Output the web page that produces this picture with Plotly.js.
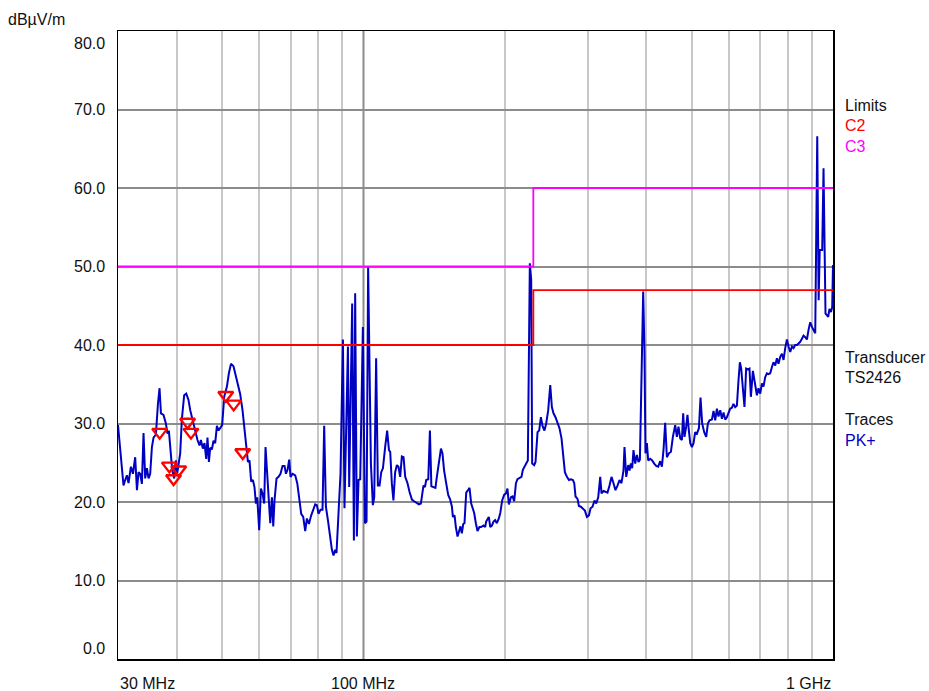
<!DOCTYPE html>
<html>
<head>
<meta charset="utf-8">
<script src="https://cdn.plot.ly/plotly-3.0.1.min.js"></script>
<style>html,body{margin:0;padding:0;background:#fff;}#chart{width:929px;height:691px;}</style>
</head>
<body>
<div id="chart"></div>
<script>
// Frequencies (MHz) of the PK+ trace
const freqMHz = [
30.0,30.82,31.08,31.34,31.59,31.96,32.28,32.64,32.92,33.18,
33.44,33.73,34.0,34.28,34.57,34.85,35.13,35.43,35.71,36.13,
36.49,36.78,37.03,37.5,37.94,38.24,38.5,38.75,39.13,39.52,
39.85,40.05,40.36,40.7,41.04,41.5,41.92,42.39,42.75,43.31,
43.8,44.3,44.74,45.05,45.49,45.85,46.24,46.53,46.86,47.15,
47.55,47.92,48.32,48.73,49.12,49.52,50.0,50.5,51.18,51.68,
52.2,52.86,53.57,54.18,54.6,55.25,55.79,56.26,56.73,57.17,
57.65,58.13,58.59,59.0,59.38,59.96,60.47,60.95,61.45,61.85,
62.37,62.77,63.3,63.82,64.24,64.64,65.28,65.92,66.57,67.23,
67.89,68.36,68.9,69.47,69.92,70.62,71.55,72.26,72.95,73.68,
74.41,75.14,75.76,76.51,77.38,78.15,78.91,79.56,80.21,80.98,
81.79,82.47,83.16,83.99,84.8,85.65,86.32,87.04,87.6,88.48,
89.34,90.4,91.1,92.65,93.22,94.6,95.4,96.0,96.8,97.6,
98.4,99.7,100.7,101.5,102.3,103.7,104.7,105.4,106.4,107.3,
108.2,109.1,110.0,111.2,112.3,113.3,114.0,114.9,115.8,116.8,
117.8,118.7,119.7,120.7,121.7,122.7,124.1,125.3,126.8,128.2,
129.9,131.2,132.5,133.4,134.2,135.2,136.0,137.4,138.5,139.5,
141.0,142.3,143.3,144.7,146.2,147.3,148.5,150.0,151.5,153.0,
154.3,155.0,156.3,157.3,158.6,159.7,160.9,162.0,163.1,164.1,
165.5,166.9,168.2,169.6,171.0,172.1,173.5,174.9,176.6,178.1,
180.1,181.6,182.5,183.7,184.9,186.2,187.7,189.2,190.7,192.3,
194.2,195.6,197.4,199.3,201.1,202.6,204.0,206.1,207.7,209.4,
211.2,212.8,214.9,217.0,218.5,220.2,222.1,223.9,225.0,226.1,
227.6,228.7,231.0,232.5,234.8,236.7,238.7,240.6,242.9,245.0,
247.4,249.9,251.9,253.9,256.4,258.9,261.5,264.1,265.9,268.5,
271.2,273.9,276.5,279.3,281.1,282.9,285.7,287.6,290.4,293.3,
296.2,299.1,302.1,304.5,307.5,310.5,313.1,316.2,319.3,321.3,
324.5,327.7,330.9,334.2,337.5,340.8,344.1,347.5,351.0,354.4,
357.9,359.7,362.7,366.3,368.7,371.1,373.5,375.9,379.1,382.2,
385.2,387.9,390.9,394.2,396.7,398.6,401.4,404.0,408.1,412.0,
416.1,420.2,424.3,428.5,432.1,435.5,439.1,442.8,447.2,451.6,
456.0,461.2,465.0,468.7,472.8,476.6,479.6,482.7,486.7,489.8,
493.2,496.6,500.6,504.6,508.7,513.0,518.1,522.2,526.5,531.7,
537.0,541.4,545.8,552.2,556.6,561.2,565.9,570.3,575.2,580.0,
584.6,589.5,594.3,599.0,604.1,609.1,613.9,619.0,624.2,629.1,
633.4,637.5,642.8,647.8,653.2,658.7,663.9,668.5,675.1,680.5,
688.5,693.9,699.8,705.6,711.2,717.1,723.1,728.8,735.0,741.2,
747.0,753.2,759.5,765.4,772.0,778.4,784.6,791.1,797.7,804.0,
810.8,817.6,824.0,830.9,837.8,844.4,851.5,858.6,865.4,872.6,
879.9,886.8,894.3,901.9,909.0,916.6,925.6,932.0,937.0,948.4,
954.6,959.2,963.9,970.5,976.8,982.9,989.7,996.1,1000
];
// Levels (dBµV/m) of the PK+ trace
const pkLevel = [
29.8,22.1,22.8,23.4,22.4,24.5,23.6,25.7,21.5,23.8,
23.6,22.3,28.8,23.0,24.3,23.0,23.6,27.0,28.2,28.6,
32.5,34.5,31.3,31.1,30.0,28.7,29.1,27.0,24.1,23.0,
25.3,23.4,24.9,26.2,30.6,33.6,33.8,33.0,31.7,30.2,
28.9,27.9,27.2,27.9,26.8,27.5,25.5,28.2,25.1,26.9,
26.7,27.8,27.5,29.7,29.1,29.4,29.8,33.4,34.7,36.4,
37.6,37.3,35.9,34.7,33.8,31.7,29.1,26.4,25.1,25.3,
22.6,22.8,21.9,19.8,20.6,16.4,21.7,21.1,19.8,27.0,
23.6,21.1,17.3,20.6,16.9,20.2,23.0,23.2,23.6,24.6,
24.6,23.6,24.1,25.4,23.2,23.6,23.4,22.4,20.6,18.5,
18.1,16.3,17.9,17.2,18.3,19.0,19.7,19.6,18.5,19.0,
19.0,29.7,19.4,17.7,16.0,13.9,13.2,13.9,13.5,18.5,
23.6,40.7,19.2,39.8,21.9,45.3,15.1,46.6,15.6,22.8,
22.9,42.3,17.3,17.5,49.9,24.9,19.6,20.6,38.3,22.1,
22.1,23.8,24.3,27.0,29.1,26.6,26.4,22.4,20.2,23.8,
24.7,24.5,23.2,25.8,25.7,23.2,22.4,21.3,20.3,20.1,
19.9,19.7,19.8,20.9,22.1,21.9,22.8,22.9,29.1,22.0,
21.9,21.8,23.2,24.9,26.8,26.2,24.0,22.4,20.9,20.3,
19.4,18.1,18.3,16.8,15.6,16.2,16.9,16.0,17.2,17.3,
21.2,21.5,21.8,19.8,19.0,18.6,17.3,16.3,16.8,16.8,
17.0,16.8,17.5,17.9,18.1,16.8,17.0,17.5,17.7,17.3,
17.9,18.6,20.2,20.9,21.1,21.7,19.7,20.6,20.7,20.1,
22.4,22.9,23.0,23.2,24.1,24.4,24.9,25.3,39.3,50.4,
48.3,24.9,24.7,25.1,28.9,29.1,30.8,29.7,29.1,30.0,
31.7,34.9,32.1,31.3,30.8,30.0,29.4,28.1,26.6,23.8,
23.2,22.8,22.9,22.8,22.4,20.7,20.4,19.5,19.4,19.2,
18.9,18.1,18.3,19.2,19.4,20.2,19.8,20.6,23.2,21.1,
21.4,21.3,21.2,22.1,23.2,22.4,21.5,22.1,22.8,22.4,
24.0,27.0,23.2,24.7,24.0,24.9,24.3,26.6,24.9,26.0,
25.1,25.4,35.9,46.8,39.3,26.2,27.5,25.3,25.5,25.3,
24.9,24.6,24.5,25.2,24.5,26.6,30.1,25.7,26.2,26.4,
28.3,29.8,28.3,29.6,28.1,27.9,31.3,28.3,29.6,31.1,
29.1,27.5,27.0,27.5,28.9,28.7,29.4,33.3,30.0,28.9,
28.3,30.0,30.4,30.5,31.6,30.4,31.9,30.9,31.7,30.6,
31.4,30.5,30.8,31.3,31.9,32.0,32.5,32.1,32.3,35.5,
37.8,37.0,34.2,32.1,37.0,36.9,37.0,33.4,36.7,35.5,
33.6,34.5,33.8,35.1,34.7,35.9,36.4,36.3,36.4,37.2,
37.8,37.4,38.3,37.6,38.5,38.9,38.1,39.6,40.7,39.8,
39.1,39.8,39.6,40.0,40.0,40.2,40.4,40.8,41.2,41.0,
40.7,41.9,42.9,42.3,41.9,41.5,66.6,45.7,52.1,52.1,
62.5,49.9,44.0,43.8,43.6,44.6,44.2,44.8,50.2
];

// Limit lines (step at 230 MHz)
const limitFreq = [30, 230, 1000];
const limitC2 = [40, 47, 47];
const limitC3 = [50, 60, 60];

// Final measurement markers
const markerFreq = [36.8, 38.6, 39.4, 40.4, 42.2, 42.9, 50.9, 52.9, 55.3];
const markerLevel = [28.9, 24.6, 23.0, 24.1, 30.2, 28.9, 33.6, 32.5, 26.3];

// Axis ticks
const yTickVals = [0, 10, 20, 30, 40, 50, 60, 70, 80];
const yTickText = ["0.0", "10.0", "20.0", "30.0", "40.0", "50.0", "60.0", "70.0", "80.0"];
const xGridVals = [40, 50, 60, 70, 80, 90, 200, 300, 400, 500, 600, 700, 800, 900];
const xLabelVals = [30, 100, 1000];
const xLabelText = ["30 MHz", "100 MHz", "1 GHz"];
const unitLabel = "dBµV/m";

// Right-hand info block
const infoText = ["Limits", "C2", "C3", "Transducer", "TS2426", "Traces", "PK+"];
const infoColor = ["#111111", "#ff0000", "#ff00ff", "#111111", "#111111", "#111111", "#0000c8"];
const infoYpx = [105.5, 125.5, 146, 357, 377.5, 419.5, 440];

const FONT = "Liberation Sans, Arial, Helvetica, sans-serif";
const plotTop = 31, plotBottom = 659, plotH = plotBottom - plotTop;
const plotLeft = 118, plotW = 715;

const traces = [
  {x: freqMHz, y: pkLevel, type: 'scatter', mode: 'lines',
   line: {color: '#0000c0', width: 2}, hoverinfo: 'skip'},
  {x: limitFreq, y: limitC2, type: 'scatter', mode: 'lines',
   line: {color: '#ff0000', width: 1.8, shape: 'hv'}},
  {x: limitFreq, y: limitC3, type: 'scatter', mode: 'lines',
   line: {color: '#ff00ff', width: 1.8, shape: 'hv'}},
  {x: markerFreq, y: markerLevel, type: 'scatter', mode: 'markers',
   marker: {symbol: 'triangle-down', size: 13, color: 'rgba(255,255,255,0)',
            line: {color: '#ff0000', width: 2.4}}}
];

const annotations = [];
yTickVals.forEach((v, i) => {
  let anchor = 'middle', shift = 0;
  if (v === 80) { anchor = 'top'; shift = -2; }
  if (v === 0) { anchor = 'bottom'; shift = 0; }
  annotations.push({xref: 'paper', yref: 'y', x: 0, y: v, xshift: -11,
    xanchor: 'right', yanchor: anchor, yshift: shift, text: yTickText[i], showarrow: false,
    font: {family: FONT, size: 16, color: '#111'}});
});
xLabelVals.forEach((v, i) => {
  annotations.push({xref: 'x', yref: 'paper', x: Math.log10(v), y: 0, yshift: -24,
    xanchor: i === 0 ? 'left' : (i === xLabelVals.length - 1 ? 'right' : 'center'),
    yanchor: 'middle', text: xLabelText[i], showarrow: false,
    font: {family: FONT, size: 16, color: '#111'}});
});
annotations.push({xref: 'paper', yref: 'paper', x: (6 - plotLeft) / plotW,
  y: (plotBottom - 19) / plotH, xanchor: 'left', yanchor: 'middle', text: unitLabel,
  showarrow: false, font: {family: FONT, size: 16, color: '#111'}});
infoText.forEach((t, i) => {
  annotations.push({xref: 'paper', yref: 'paper', x: (843 - plotLeft) / plotW,
    y: (plotBottom - infoYpx[i]) / plotH, xanchor: 'left', yanchor: 'middle',
    text: t, showarrow: false, font: {family: FONT, size: 16, color: infoColor[i]}});
});

const layout = {
  width: 929, height: 691,
  margin: {l: 118, r: 96, t: 31, b: 32, pad: 0},
  paper_bgcolor: '#ffffff', plot_bgcolor: '#ffffff',
  showlegend: false,
  font: {family: FONT, size: 16, color: '#111'},
  xaxis: {type: 'log', range: [Math.log10(30), 3], tickvals: xGridVals,
    showticklabels: false, ticks: '', showgrid: true, gridcolor: '#c8c8c8', gridwidth: 2,
    zeroline: false, showline: true, mirror: true, linecolor: '#000', linewidth: 1.5},
  yaxis: {range: [0, 80], tickvals: [10, 20, 30, 40, 50, 60, 70],
    showticklabels: false, ticks: '', showgrid: true, gridcolor: '#8c8c8c', gridwidth: 2,
    zeroline: false, showline: true, mirror: true, linecolor: '#000', linewidth: 1.5},
  shapes: [{type: 'line', xref: 'x', yref: 'paper', x0: 100, x1: 100, y0: 0, y1: 1,
    layer: 'between', line: {color: '#8c8c8c', width: 2}}],
  annotations: annotations
};

Plotly.newPlot('chart', traces, layout, {staticPlot: true, displayModeBar: false});
</script>
</body>
</html>
